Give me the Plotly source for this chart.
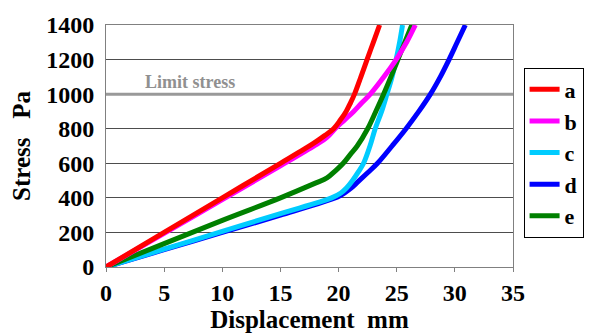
import plotly.graph_objects as go

# ---- data ----
names = ["a", "b", "c", "d", "e"]
colors = ["#ff0000", "#ff00ff", "#00ccff", "#0000ff", "#008000"]

a_x = [0, 5, 10, 15, 17, 18, 18.8, 19.57, 20.15, 20.65, 21.03, 21.37, 21.92, 22.45, 22.99, 23.53]
a_y = [0, 200, 400, 600, 680, 722, 760, 800, 850, 900, 950, 1000, 1100, 1200, 1300, 1400]

b_x = [0, 5, 10, 15, 18, 19, 19.7, 20.5, 21.3, 22.0, 22.73, 23.9, 24.95, 25.85, 26.6]
b_y = [0, 195, 390, 585, 705, 750, 800, 850, 900, 950, 1000, 1100, 1200, 1300, 1400]

c_x = [0, 5, 10, 15, 19.4, 20.2, 20.7, 21.2, 21.7, 22.15, 22.7, 23.15, 23.7, 24.16, 24.6, 24.95, 25.25, 25.5]
c_y = [0, 103, 206, 309, 400, 428, 458, 500, 550, 600, 700, 800, 900, 1000, 1100, 1200, 1300, 1400]

d_x = [0, 5, 10, 15, 19.4, 20.2, 21, 21.7, 22.5, 23.35, 24.6, 25.8, 26.9, 27.9, 28.75, 29.5, 30.2, 30.9]
d_y = [0, 100, 200, 300, 392, 415, 452, 495, 545, 600, 700, 800, 900, 1000, 1100, 1200, 1300, 1400]

e_x = [0, 5, 10, 15, 18, 19, 19.7, 20.4, 21.0, 21.6, 22.5, 23.2, 23.87, 24.5, 25.1, 25.7, 26.3]
e_y = [0, 135, 270, 400, 485, 515, 555, 600, 650, 700, 800, 900, 1000, 1100, 1200, 1300, 1400]

series_x = [a_x, b_x, c_x, d_x, e_x]
series_y = [a_y, b_y, c_y, d_y, e_y]

limit_stress = 1000
limit_label = "Limit stress"
x_range = [0, 35]
y_range = [0, 1400]
x_ticks = [0, 5, 10, 15, 20, 25, 30, 35]
y_ticks = [0, 200, 400, 600, 800, 1000, 1200, 1400]

FONT = "Liberation Serif"

fig = go.Figure()

# limit stress line (below curves, above grid)
fig.add_trace(go.Scatter(x=x_range, y=[limit_stress, limit_stress], mode="lines",
                         line=dict(color="#999999", width=3), showlegend=False,
                         hoverinfo="skip"))

# drawing order: d, c, e, b, a  (legend order a..e)
draw_order = [3, 2, 4, 1, 0]
for i in draw_order:
    fig.add_trace(go.Scatter(
        x=series_x[i], y=series_y[i], mode="lines", name=names[i],
        line=dict(color=colors[i], width=5, shape="spline", smoothing=1.0),
        legendrank=i + 1,
    ))

fig.add_annotation(x=7.2, y=1070, xref="x", yref="y", text=limit_label,
                   showarrow=False,
                   font=dict(family=FONT, size=18, color="#909090", weight="bold"))

fig.update_layout(
    width=605, height=335,
    margin=dict(l=106, r=92, t=21, b=63),
    paper_bgcolor="white", plot_bgcolor="white",
    font=dict(family=FONT, color="black", weight="bold"),
    legend=dict(x=1.026, y=0.473, xanchor="left", yanchor="middle",
                bordercolor="black", borderwidth=1, bgcolor="white",
                font=dict(family=FONT, size=22, color="black", weight="bold"),
                traceorder="normal", itemwidth=30, entrywidth=50, entrywidthmode="pixels"),
)

fig.update_xaxes(
    range=x_range, tickvals=x_ticks,
    tickfont=dict(family=FONT, size=24, color="black", weight="bold"),
    showline=True, linecolor="#808080", linewidth=1, mirror=True,
    ticks="outside", ticklen=4, tickcolor="#808080",
    showgrid=False, zeroline=False,
    title=dict(text="Displacement\u00a0\u00a0mm",
               font=dict(family=FONT, size=25, color="black", weight="bold"),
               standoff=0),
)
fig.update_yaxes(
    range=y_range, tickvals=y_ticks,
    tickfont=dict(family=FONT, size=24, color="black", weight="bold"),
    showline=True, linecolor="#808080", linewidth=1, mirror=True,
    ticks="", ticklabelstandoff=6,
    showgrid=True, gridcolor="#4d4d4d", gridwidth=1, zeroline=False,
    title=dict(text="Stress\u00a0\u00a0\u00a0Pa",
               font=dict(family=FONT, size=25, color="black", weight="bold"),
               standoff=8),
)

fig.write_html("out.html")
